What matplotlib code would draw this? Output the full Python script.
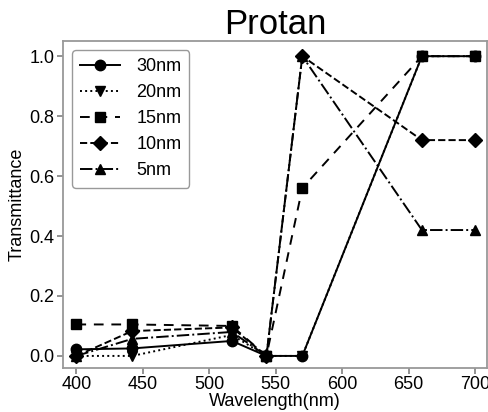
#!/usr/bin/env python
# -*- coding: utf-8 -*-
"""Protan transmittance vs wavelength"""

import matplotlib as mpl
mpl.use("Agg")
import matplotlib.pyplot as plt

plt.rcParams['font.family'] = ['Liberation Sans', 'DejaVu Sans']

# data
wavelength = [400, 442, 517, 543, 570, 660, 700]
t_30nm = [0.022, 0.025, 0.05, 0.0, 0.0, 1.0, 1.0]
t_20nm = [0.0, 0.0, 0.07, 0.0, 0.0, 1.0, 1.0]
t_15nm = [0.105, 0.105, 0.10, 0.0, 0.56, 1.0, 1.0]
t_10nm = [0.0, 0.083, 0.095, 0.0, 1.0, 0.72, 0.72]
t_5nm = [0.0, 0.057, 0.08, 0.0, 1.0, 0.42, 0.42]

labels = ["30nm", "20nm", "15nm", "10nm", "5nm"]
styles = [("-", "o"), (":", "v"), ((0, (5, 4)), "s"), ("--", "D"), ("-.", "^")]


def main():
    fig = plt.figure(figsize=(4.89, 4.12), dpi=100)
    ax = fig.add_axes([0.129, 0.107, 0.867, 0.793])

    series = [t_30nm, t_20nm, t_15nm, t_10nm, t_5nm]
    for vals, lab, (ls, mk) in zip(series, labels, styles):
        ax.plot(wavelength, vals, color="black", linestyle=ls, marker=mk,
                markersize=7.5, linewidth=1.4, label=lab)

    ax.set_xlim(390, 709)
    ax.set_ylim(-0.04, 1.05)
    ax.set_xticks([400, 450, 500, 550, 600, 650, 700])
    ax.set_yticks([0.0, 0.2, 0.4, 0.6, 0.8, 1.0])
    ax.set_xlabel("Wavelength(nm)", fontsize=13, labelpad=0)
    ax.set_ylabel("Transmittance", fontsize=13, labelpad=3)
    ax.set_title("Protan", fontsize=25, pad=5)
    ax.tick_params(labelsize=13, color="gray", length=4, width=1.2, pad=2)
    for s in ax.spines.values():
        s.set_color("#999999")
        s.set_linewidth(1.3)

    leg = ax.legend(loc="upper left", fontsize=13, handlelength=2.2,
                    handletextpad=0.9, borderpad=0.45, labelspacing=0.5)
    leg.get_frame().set_edgecolor("gray")

    fig.savefig("out.png", dpi=100)


if __name__ == '__main__':
    main()
